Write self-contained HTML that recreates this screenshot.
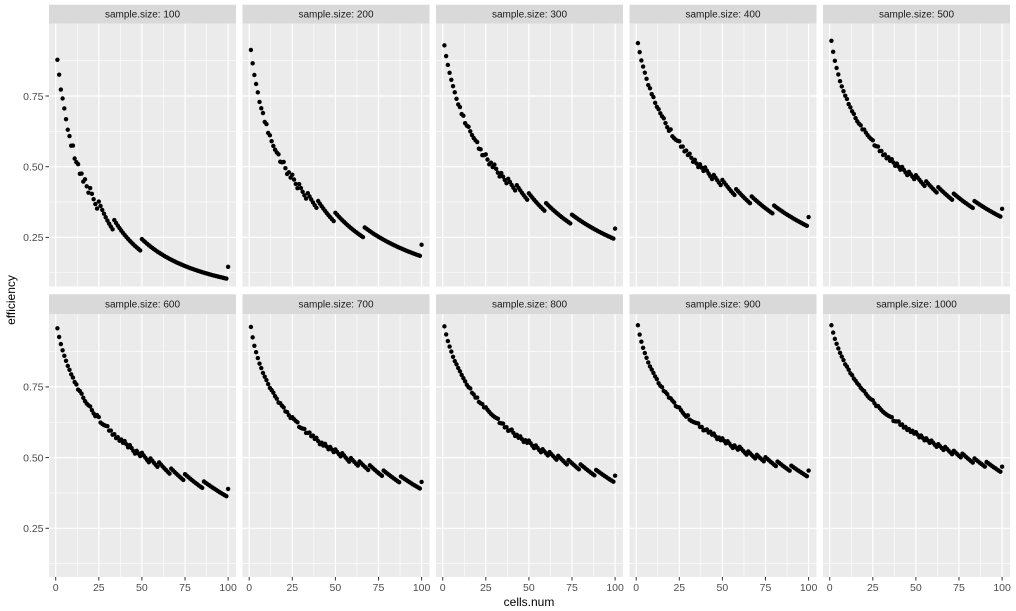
<!DOCTYPE html>
<html><head><meta charset="utf-8"><style>
html,body{margin:0;padding:0;background:#fff;}
svg{display:block;font-family:"Liberation Sans",Arial,sans-serif;}
</style></head><body>
<svg id="s" width="1016" height="611" viewBox="0 0 1016 611" xmlns="http://www.w3.org/2000/svg"></svg>
<script>
var S=document.getElementById('s'),h='';
var anchors={100:[0.878,0.244,0.146],200:[0.913,0.337,0.224],300:[0.929,0.406,0.281],400:[0.937,0.453,0.322],500:[0.945,0.47,0.351],
600:[0.957,0.517,0.389],700:[0.962,0.529,0.414],800:[0.964,0.56,0.436],900:[0.968,0.568,0.454],1000:[0.968,0.59,0.468]};
var ns=[100,200,300,400,500,600,700,800,900,1000];
var W=187,PX=1.724,PY=282.8;
function rows(r){return {strip:4.7+r*289.6,top:23.7+r*290.5,bot:286.5+r*290.5,v25:237.4+r*290.9};}
for(var k=0;k<10;k++){
 var n=ns[k],c=k%5,r=Math.floor(k/5),L=49+c*193.5,R=rows(r);
 var X=function(v){return L+6.7+v*PX;},Y=function(v){return R.v25-(v-0.25)*PY;};
 h+='<rect x="'+L+'" y="'+R.strip+'" width="'+W+'" height="'+(R.top-R.strip)+'" fill="#d9d9d9"/>';
 h+='<text x="'+(L+W/2)+'" y="'+(R.strip+13)+'" font-size="10" fill="#1a1a1a" text-anchor="middle">sample.size: '+n+'</text>';
 h+='<rect x="'+L+'" y="'+R.top+'" width="'+W+'" height="'+(R.bot-R.top)+'" fill="#ebebeb"/>';
 [12.5,37.5,62.5,87.5].forEach(function(v){h+='<line x1="'+X(v)+'" x2="'+X(v)+'" y1="'+R.top+'" y2="'+R.bot+'" stroke="#fff" stroke-width="0.6"/>';});
 [0.125,0.375,0.625,0.875].forEach(function(v){h+='<line x1="'+L+'" x2="'+(L+W)+'" y1="'+Y(v)+'" y2="'+Y(v)+'" stroke="#fff" stroke-width="0.6"/>';});
 [0,25,50,75,100].forEach(function(v){h+='<line x1="'+X(v)+'" x2="'+X(v)+'" y1="'+R.top+'" y2="'+R.bot+'" stroke="#fff" stroke-width="1.2"/>';});
 [0.25,0.5,0.75].forEach(function(v){h+='<line x1="'+L+'" x2="'+(L+W)+'" y1="'+Y(v)+'" y2="'+Y(v)+'" stroke="#fff" stroke-width="1.2"/>';});
 var a=anchors[n],E1=1/a[0],E50=1/a[1],E100=1/a[2],rt=(E100-E1)/(E50-E1),lo=0.2,hi=2;
 for(var it=0;it<60;it++){var q=(lo+hi)/2,f=(Math.pow(100,q)-1)/(Math.pow(50,q)-1);if(f<rt)lo=q;else hi=q;}
 var q=(lo+hi)/2,b=(E100-E1)/(Math.pow(100,q)-1),a0=E1-b;
 for(var x=1;x<=100;x++){
  var base=1/(a0+b*Math.pow(x,q)),T=x*Math.ceil(n/x),e=base*Math.sqrt(n/T);
  h+='<circle cx="'+X(x).toFixed(2)+'" cy="'+Y(e).toFixed(2)+'" r="2.2" fill="#000"/>';
 }
 if(c==0){[0.25,0.5,0.75].forEach(function(v){h+='<line x1="45.5" x2="49" y1="'+Y(v)+'" y2="'+Y(v)+'" stroke="#333" stroke-width="1"/><text x="43.5" y="'+(Y(v)+3.8)+'" font-size="10.5" fill="#4d4d4d" text-anchor="end">'+v.toFixed(2)+'</text>';});}
 if(r==1){[0,25,50,75,100].forEach(function(v){h+='<line x1="'+X(v)+'" x2="'+X(v)+'" y1="577" y2="580.5" stroke="#333" stroke-width="1"/><text x="'+X(v)+'" y="591" font-size="10.5" fill="#4d4d4d" text-anchor="middle">'+v+'</text>';});}
}
h+='<text x="529" y="606" font-size="12" fill="#000" text-anchor="middle">cells.num</text>';
h+='<text transform="translate(15,300) rotate(-90)" font-size="12" fill="#000" text-anchor="middle">efficiency</text>';
S.innerHTML=h;
</script>
</body></html>
